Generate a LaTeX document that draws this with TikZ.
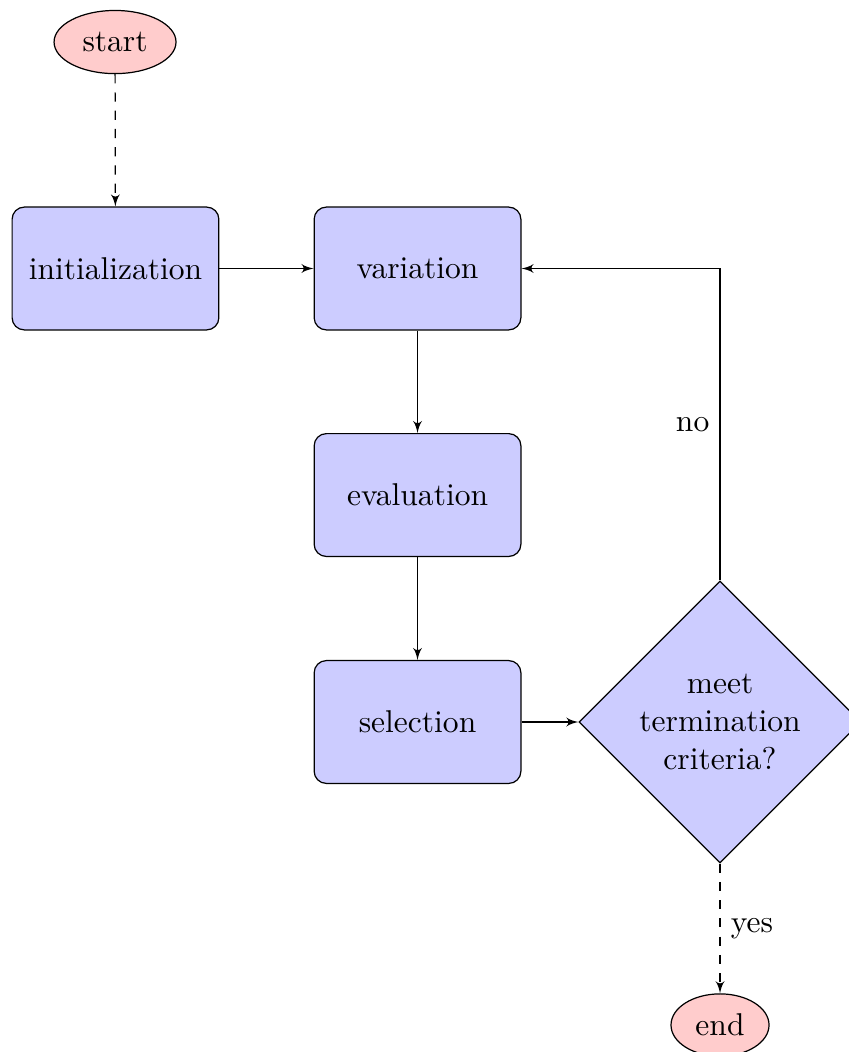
\documentclass[tikz,border=0pt]{standalone}
\usetikzlibrary{arrows}
\usetikzlibrary{shapes.geometric}
\tikzset{block/.style={rectangle, draw, fill=blue!20, rounded corners,
  minimum width=2.39cm, minimum height=1.42cm, align=center}}
\tikzset{cloud/.style={ellipse, draw, fill=red!20, minimum width=1.1cm, minimum height=0.72cm}}
\tikzset{decision/.style={diamond, draw, fill=blue!20, text width=2cm, align=center,
  inner sep=0pt, minimum width=3.26cm, minimum height=3.26cm}}
\tikzset{line/.style={draw, -latex'}}

\begin{document}
\begin{tikzpicture}[font=\fontsize{10.37}{12.6}\selectfont]
      \useasboundingbox (0, 0) rectangle (9.815, -12.162);

      \node [cloud, minimum width=1.41cm, minimum height=0.73cm] (start) at (1.33, -0.486) {start};
      \node [block] (init) at (1.335, -3.104) {initialization};
      \node [block] (variation) at (4.827, -3.104) {variation};
      \node [block] (evaluation) at (4.827, -5.723) {evaluation};
      \node [block] (selection) at (4.827, -8.347) {selection};
      \node [decision] (stop) at (8.324, -8.347) {meet\\termination\\criteria?};
      \node [cloud] (end) at (8.324, -11.85) {end};

      \draw [line, dashed] (start) -- (init);
      \draw [line] (init) -- (variation);
      \draw [line] (variation) -- (evaluation);
      \draw [line] (evaluation) -- (selection);
      \draw [line] (selection) -- (stop);
      \draw [line] (stop) |- node [pos=0.25, left] {no} (variation);
      \draw [line, dashed] (stop) -- node [right] {yes} (end);
    \end{tikzpicture}
\end{document}
